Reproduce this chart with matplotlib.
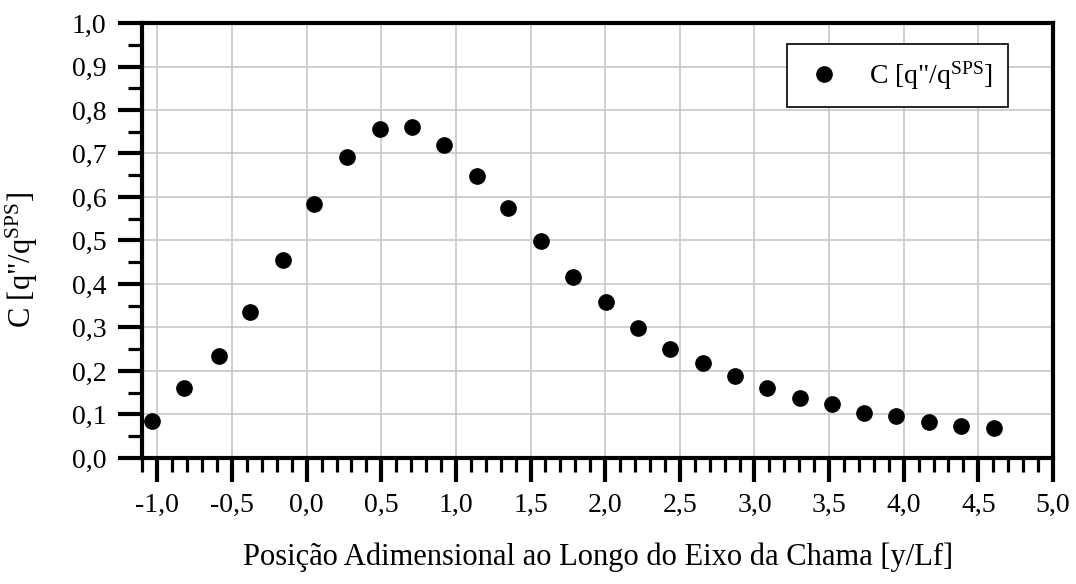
import matplotlib
matplotlib.use('Agg')
import matplotlib.pyplot as plt
from matplotlib.ticker import MultipleLocator, FuncFormatter

plt.rcParams['font.family'] = ['Liberation Serif', 'DejaVu Serif']
plt.rcParams['mathtext.fontset'] = 'custom'
plt.rcParams['mathtext.rm'] = 'Liberation Serif'
plt.rcParams['mathtext.it'] = 'Liberation Serif:italic'

# posicao adimensional y/Lf e coeficiente C
pos = [-1.035, -0.82, -0.59, -0.38, -0.16, 0.05, 0.27, 0.49, 0.705, 0.919,
       1.138, 1.352, 1.573, 1.785, 2.003, 2.22, 2.436, 2.653, 2.869, 3.086,
       3.302, 3.519, 3.737, 3.951, 4.17, 4.386, 4.603]
coef = [0.085, 0.162, 0.234, 0.336, 0.455, 0.585, 0.693, 0.756, 0.762, 0.720,
        0.648, 0.574, 0.498, 0.415, 0.359, 0.298, 0.251, 0.219, 0.189, 0.162,
        0.138, 0.125, 0.104, 0.097, 0.082, 0.074, 0.068]
serie = 'C [q"/q$^{\\mathrm{SPS}}$]'

fig = plt.figure(figsize=(10.76, 5.84), dpi=100)
ax = fig.add_axes([0.1324, 0.2158, 0.8462, 0.7448])

ax.plot(pos, coef, 'o', color='black', ms=11, label=serie, zorder=3)

ax.set_xlim(-1.1, 5.0)
ax.set_ylim(0.0, 1.0)
ax.xaxis.set_major_locator(MultipleLocator(0.5))
ax.xaxis.set_minor_locator(MultipleLocator(0.1))
ax.yaxis.set_major_locator(MultipleLocator(0.1))
ax.yaxis.set_minor_locator(MultipleLocator(0.05))
fmt = FuncFormatter(lambda v, p: ('%.1f' % v).replace('.', ',').replace('−', '-'))
ax.xaxis.set_major_formatter(fmt)
ax.yaxis.set_major_formatter(fmt)

ax.grid(True, which='major', color='#c8c8c8', lw=1.2, zorder=0)
ax.set_axisbelow(True)

for s in ax.spines.values():
    s.set_linewidth(3)
ax.tick_params(which='major', direction='out', length=17, width=3, labelsize=20)
ax.tick_params(axis='x', which='major', pad=8)
ax.tick_params(axis='y', which='major', pad=9)
ax.tick_params(which='minor', direction='out', length=10, width=2.3)
ax.tick_params(top=False, right=False, which='both')

ax.set_xlabel('Posição Adimensional ao Longo do Eixo da Chama [y/Lf]', fontsize=22, labelpad=18)
ax.set_ylabel(serie, fontsize=22)
ax.yaxis.set_label_coords(-0.112, 0.455)

leg = ax.legend(loc='upper right', bbox_to_anchor=(0.9506, 0.952), borderaxespad=0,
                fontsize=20, fancybox=False, framealpha=1, edgecolor='black',
                borderpad=0.55, handletextpad=0.8, handlelength=1.6)
leg.get_frame().set_linewidth(1.2)

fig.savefig('out.png', dpi=100)
